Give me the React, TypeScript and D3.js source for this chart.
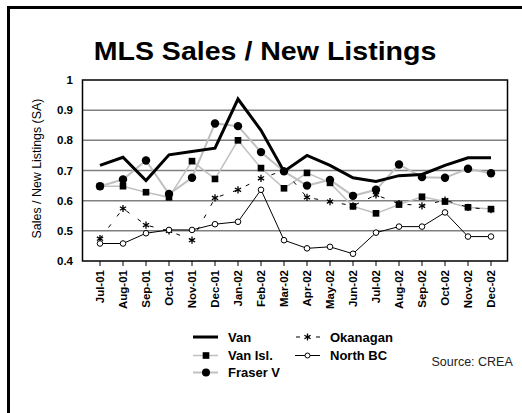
import * as d3 from "d3";

const months = ["Jul-01","Aug-01","Sep-01","Oct-01","Nov-01","Dec-01","Jan-02","Feb-02","Mar-02","Apr-02","May-02","Jun-02","Jul-02","Aug-02","Sep-02","Oct-02","Nov-02","Dec-02"];
const van = [0.717,0.744,0.667,0.752,0.763,0.774,0.937,0.833,0.697,0.75,0.717,0.676,0.664,0.683,0.687,0.717,0.742,0.742];
const vanIsl = [0.648,0.648,0.628,0.611,0.731,0.672,0.8,0.708,0.641,0.692,0.659,0.581,0.558,0.587,0.613,0.597,0.578,0.572];
const fraserV = [0.648,0.67,0.733,0.622,0.676,0.856,0.847,0.761,0.697,0.65,0.669,0.616,0.636,0.72,0.678,0.676,0.706,0.691];
const okanagan = [0.474,0.574,0.519,0.5,0.469,0.609,0.636,0.674,0.7,0.611,0.597,0.583,0.619,0.59,0.583,0.602,0.578,0.57];
const northBC = [0.458,0.458,0.492,0.503,0.503,0.522,0.53,0.636,0.469,0.442,0.447,0.424,0.494,0.514,0.514,0.561,0.481,0.481];
const yTicks = [0.4,0.5,0.6,0.7,0.8,0.9,1];

const font = "'Liberation Sans', Arial, sans-serif";
const W = 522, H = 413;
const plot = { left: 82.5, top: 80, right: 507.5, bottom: 261 };

export default function App() {
  const x = d3.scalePoint<string>().domain(months).range([100, 491]);
  const y = d3.scaleLinear().domain([0.4, 1]).range([plot.bottom, plot.top]);
  const line = (vals: number[]) =>
    d3.line<number>().x((_, i) => x(months[i])!).y((d) => y(d))(vals) || "";
  const sq = d3.symbol().type(d3.symbolSquare).size(44)() || "";
  const ast = d3.symbol().type(d3.symbolAsterisk).size(36)() || "";

  return (
    <svg width={W} height={H} style={{ position: "absolute", left: 0, top: 0, fontFamily: font }}>
      <rect width={W} height={H} fill="white" />
      <path d={`M8.5,${H + 5}V7.5H${W + 5}`} fill="none" stroke="black" strokeWidth={3} />
      <text transform="translate(265,60) scale(1.12,1)" textAnchor="middle" fontSize={25.5} fontWeight="bold">MLS Sales / New Listings</text>

      {/* grid */}
      {yTicks.slice(1, -1).map((t) => (
        <line key={t} x1={plot.left} x2={plot.right} y1={y(t)} y2={y(t)} stroke="#808080" strokeWidth={1.5} />
      ))}
      <rect x={plot.left} y={plot.top} width={plot.right - plot.left} height={plot.bottom - plot.top}
        fill="none" stroke="black" strokeWidth={1.5} />
      {yTicks.map((t) => (
        <text key={t} x={73} y={y(t) + 4} textAnchor="end" fontSize={11.5} fontWeight="bold">{t}</text>
      ))}
      <text transform={`translate(41,168.5) rotate(-90)`} textAnchor="middle" fontSize={12.4}>
        Sales / New Listings (SA)
      </text>
      {months.map((m) => (
        <g key={m} transform={`translate(${x(m)},${plot.bottom})`}>
          <line y1={0} y2={5} stroke="black" strokeWidth={1} />
          <text transform="translate(4,9) rotate(-90)" textAnchor="end" fontSize={11.5} fontWeight="bold">{m}</text>
        </g>
      ))}

      {/* series */}
      <path d={line(vanIsl)} fill="none" stroke="#c0c0c0" strokeWidth={1.5} />
      <path d={line(fraserV)} fill="none" stroke="#c0c0c0" strokeWidth={2} />
      <path d={line(okanagan)} fill="none" stroke="black" strokeWidth={1} strokeDasharray="4,10" />
      <path d={line(northBC)} fill="none" stroke="black" strokeWidth={1} />
      <path d={line(van)} fill="none" stroke="black" strokeWidth={3} strokeLinejoin="miter" />
      {vanIsl.map((v, i) => (
        <path key={"s" + i} d={sq} transform={`translate(${x(months[i])},${y(v)})`} fill="black" />
      ))}
      {fraserV.map((v, i) => (
        <circle key={"c" + i} cx={x(months[i])} cy={y(v)} r={4.2} fill="black" />
      ))}
      {okanagan.map((v, i) => (
        <path key={"a" + i} d={ast} transform={`translate(${x(months[i])},${y(v)})`} fill="none" stroke="black" strokeWidth={1.3} />
      ))}
      {northBC.map((v, i) => (
        <circle key={"n" + i} cx={x(months[i])} cy={y(v)} r={2.8} fill="white" stroke="black" strokeWidth={1} />
      ))}

      {/* legend */}
      <g fontSize={13} fontWeight="bold">
        <line x1={193} x2={218} y1={337} y2={337} stroke="black" strokeWidth={3} />
        <text x={228} y={341.5}>Van</text>
        <line x1={193} x2={218} y1={355.5} y2={355.5} stroke="#c0c0c0" strokeWidth={1.5} />
        <path d={sq} transform="translate(206,355.5)" fill="black" />
        <text x={228} y={360}>Van Isl.</text>
        <line x1={193} x2={218} y1={372.5} y2={372.5} stroke="#c0c0c0" strokeWidth={2} />
        <circle cx={206} cy={372.5} r={4} fill="black" />
        <text x={228} y={377}>Fraser V</text>
        <line x1={295} x2={320} y1={337} y2={337} stroke="black" strokeWidth={1} strokeDasharray="4,6" strokeDashoffset={-1} />
        <path d={ast} transform="translate(307.5,337)" fill="none" stroke="black" strokeWidth={1.3} />
        <text x={330} y={341.5}>Okanagan</text>
        <line x1={295} x2={320} y1={355.5} y2={355.5} stroke="black" strokeWidth={1} />
        <circle cx={307.5} cy={355.5} r={2.5} fill="white" stroke="black" strokeWidth={1} />
        <text x={330} y={360}>North BC</text>
      </g>
      <text x={431.5} y={366} fontSize={12.5} fill="#222">Source: CREA</text>
    </svg>
  );
}
